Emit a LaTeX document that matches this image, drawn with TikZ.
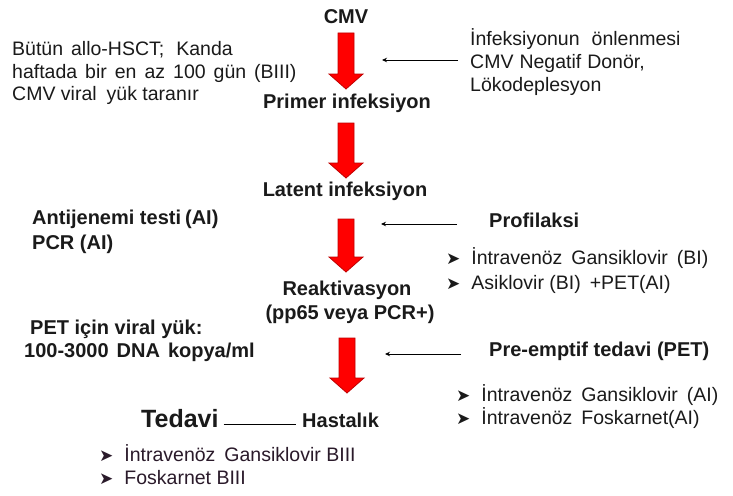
\documentclass[tikz,border=0pt]{standalone}
\usepackage{fontspec}
\setmainfont{Liberation Sans}
\newfontfamily\symfont{DejaVu Sans}
\usetikzlibrary{arrows.meta}
\definecolor{txt}{HTML}{1A1A1A}
\definecolor{txtb}{HTML}{2A1A2A}
\definecolor{arrowred}{HTML}{FF0000}
\definecolor{arrowdark}{HTML}{C00000}
\tikzset{
  reg/.style={anchor=base west, inner sep=0pt, text=txt, font=\fontsize{19.5}{22}\selectfont},
  bld/.style={anchor=base west, inner sep=0pt, text=txt, font=\fontsize{20}{22}\selectfont\bfseries},
  bldc/.style={bld, anchor=base},
  sidearrow/.style={draw=black, line width=0.9pt, -{Stealth[length=5pt,width=4.5pt]}},
  plainline/.style={draw=black, line width=0.9pt},
  bigarrow/.style={fill=arrowred, draw=arrowdark, line width=0.8pt},
}
\newcommand\bul{{\symfont\fontsize{17}{17}\selectfont ➤}\hspace{11pt}}
\newcommand\bigdownarrow[3]{%
  \path[bigarrow] ({#1-8},#2) -- ({#1+8},#2) -- ({#1+8},{#3-15}) -- ({#1+17},{#3-15})
    -- (#1,#3) -- ({#1-17},{#3-15}) -- ({#1-8},{#3-15}) -- cycle;}
\begin{document}
\begin{tikzpicture}[x=1pt,y=-1pt]
\useasboundingbox[fill=white] (0,0) rectangle (733,495);

% main chain
\node[bldc] (cmv) at (346,24) {CMV};
\node[bldc] (prim) at (347,108) {Primer infeksiyon};
\node[bldc] (lat) at (345,196) {Latent infeksiyon};
\node[bldc] (reak) at (347,295) {Reaktivasyon};
\node[bldc] (reak2) at (350,319) {(pp65\hspace{5pt}veya PCR+)};
\node[bld] (hast) at (302,427) {Hastalık};
\node[bld, font=\fontsize{25}{28}\selectfont\bfseries] (ted) at (141,427) {Tedavi};

\bigdownarrow{346}{33}{89}
\bigdownarrow{346}{123}{178}
\bigdownarrow{346}{219}{272}
\bigdownarrow{347}{338}{393}

% top left
\node[reg] (l1) at (12,56) {Bütün\hspace{8pt}allo-HSCT;\hspace{12pt}Kanda};
\node[reg] (l2) at (12,78) {haftada\hspace{8pt}bir\hspace{8pt}en\hspace{8pt}az\hspace{8pt}100\hspace{8pt}gün\hspace{8pt}(BIII)};
\node[reg] (l3) at (12,100) {CMV viral\hspace{10pt}yük taranır};

% top right
\node[reg] (r1) at (470,46) {İnfeksiyonun\hspace{12pt}önlenmesi};
\node[reg] (r2) at (470,69) {CMV\hspace{6pt}Negatif\hspace{6pt}Donör,};
\node[reg] (r3) at (470,91) {Lökodeplesyon};
\coordinate (s1a) at (458,60);
\coordinate (s1b) at (382,60);
\draw[sidearrow] (s1a) -- (s1b);

% antijenemi
\node[bld] (a1) at (32,224) {Antijenemi testi\hspace{4pt}(AI)};
\node[bld] (a2) at (32,249) {PCR (AI)};

% profilaksi
\node[bld] (prof) at (489,227) {Profilaksi};
\coordinate (s2a) at (457,224);
\coordinate (s2b) at (381,224);
\draw[sidearrow] (s2a) -- (s2b);
\node[reg] (p1) at (446,264) {\bul İntravenöz\hspace{9pt}Gansiklovir\hspace{9pt}(BI)};
\node[reg] (p2) at (446,289) {\bul Asiklovir (BI)\hspace{9pt}+PET(AI)};

% PET viral load
\node[bld] (v1) at (30,334) {PET için viral yük:};
\node[bld] (v2) at (24,357) {100-3000\hspace{8pt}DNA\hspace{8pt}kopya/ml};

% pre-emptif
\node[bld] (pre) at (489,356) {Pre-emptif tedavi (PET)};
\coordinate (s3a) at (461,354);
\coordinate (s3b) at (385,354);
\draw[sidearrow] (s3a) -- (s3b);
\node[reg] (e1) at (456,401) {\bul İntravenöz\hspace{9pt}Gansiklovir\hspace{9pt}(AI)};
\node[reg] (e2) at (456,424) {\bul İntravenöz\hspace{9pt}Foskarnet(AI)};

% tedavi line
\draw[plainline] ([xshift=5pt,yshift=3pt]ted.base east) -- ([xshift=-6pt,yshift=3pt]hast.base west);

% bottom bullets
\node[reg, text=txtb] (b1) at (99,461) {\bul İntravenöz\hspace{9pt}Gansiklovir BIII};
\node[reg, text=txtb] (b2) at (99,484) {\bul Foskarnet BIII};
\end{tikzpicture}
\end{document}
